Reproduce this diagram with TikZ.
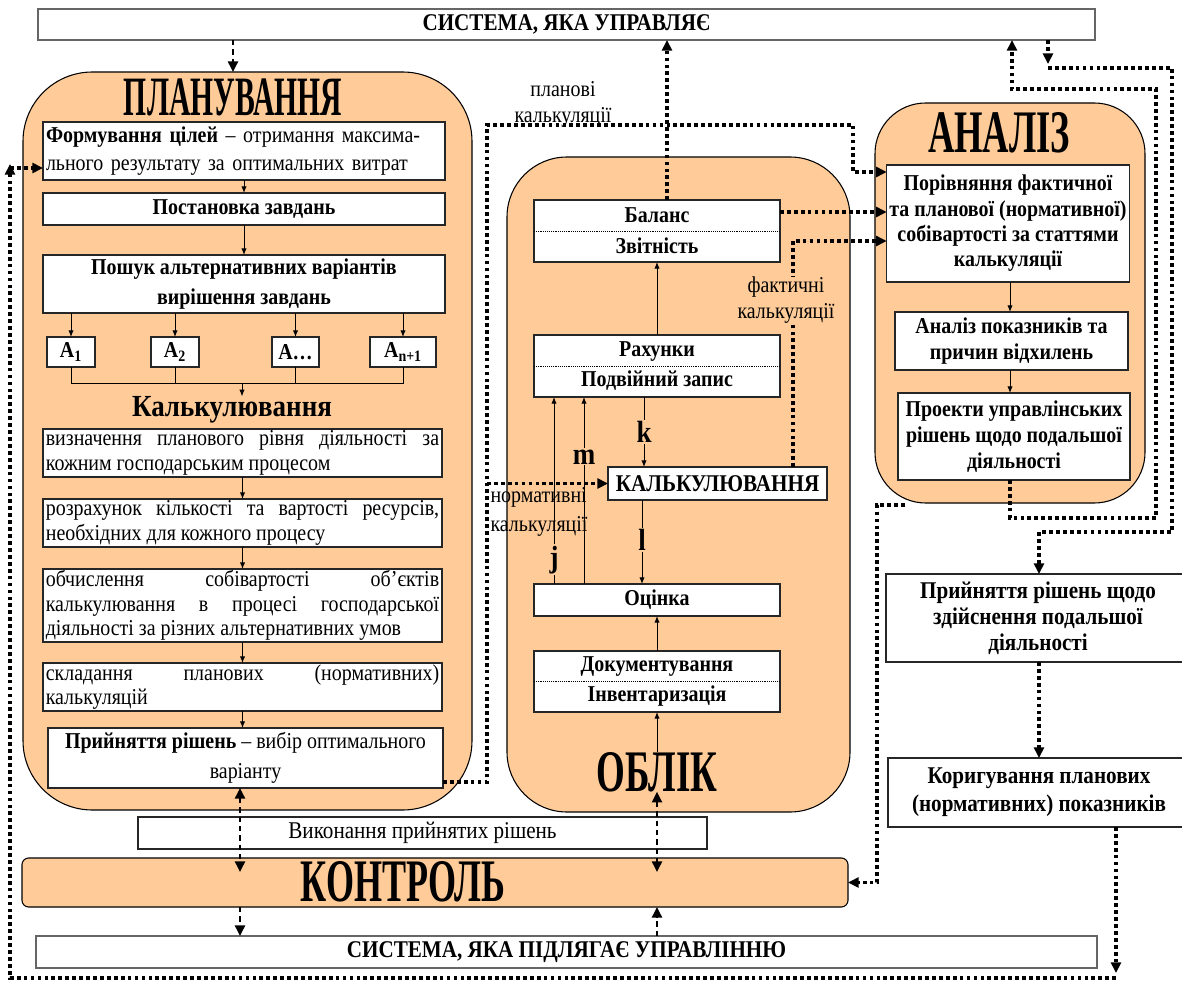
\documentclass[tikz,border=0pt]{standalone}
\usepackage{fontspec}
\usepackage{graphicx}
\setmainfont[FakeStretch=0.88]{Liberation Serif}
\usetikzlibrary{arrows.meta,calc}
\definecolor{peach}{HTML}{FFCC99}
\newcommand\fr{\fontsize{17}{18.5}\selectfont}
\newcommand\fb{\fontsize{17}{19}\selectfont\bfseries}
\newcommand\flbl{\fontsize{23}{23}\selectfont\bfseries}
\newcommand\bx[7][]{\node[box,#1,minimum width={(#5-#3)*0.75pt},minimum height={(#6-#4)*0.75pt}] (#2) at ({(#3+#5)/2},{(#4+#6)/2}) {#7};}
\newcommand\bigttl[3]{\resizebox{#1}{#2}{\bfseries #3}}
\begin{document}
\begin{tikzpicture}[x=0.75pt,y=-0.75pt,
  box/.style={draw=black!85,line width=0.8pt,fill=white,inner xsep=2pt,inner ysep=0pt,outer sep=0pt,align=center,font=\fb},
  region/.style={draw=black,line width=0.8pt,fill=peach},
  arr/.style={line width=0.7pt,-{Latex[length=5pt,width=4pt]}},
  ln/.style={line width=0.7pt},
  dotl/.style={line width=2.8pt,dash pattern=on 2.8pt off 2.4pt},
  dotarr/.style={dotl,-{Triangle[length=8pt,width=7.5pt]}},
  dasharr/.style={line width=1.8pt,dash pattern=on 4pt off 3pt,-{Triangle[length=8pt,width=7.5pt]}},
  dashdbl/.style={line width=1.8pt,dash pattern=on 4pt off 3pt,{Triangle[length=8pt,width=7.5pt]}-{Triangle[length=8pt,width=7.5pt]}},
  sepl/.style={line width=0.5pt,dash pattern=on 0.7pt off 0.7pt},
  lbl/.style={font=\flbl,fill=peach,inner sep=1pt},
  note/.style={font={\fontsize{17}{19.5}\selectfont},align=center,inner sep=0pt},
  ttl/.style={inner sep=0pt,outer sep=0pt}]
\useasboundingbox (0,0) rectangle (1182,981);
\fill[white] (0,0) rectangle (1182,981);
% coordinates
\coordinate (c10) at (10,0);
\coordinate (c233) at (233,0);
\coordinate (c240) at (240,0);
\coordinate (c242) at (242,0);
\coordinate (c487) at (487,0);
\coordinate (c554) at (554,0);
\coordinate (c584) at (584,0);
\coordinate (c642) at (642,0);
\coordinate (c644) at (644,0);
\coordinate (c657) at (657,0);
\coordinate (c667) at (667,0);
\coordinate (c793) at (793,0);
\coordinate (c853) at (853,0);
\coordinate (c877) at (877,0);
\coordinate (c1010) at (1010,0);
\coordinate (c1012) at (1012,0);
\coordinate (c1039) at (1039,0);
\coordinate (c1048) at (1048,0);
\coordinate (c1116) at (1116,0);
\coordinate (c1156) at (1156,0);
\coordinate (c1172) at (1172,0);
\coordinate (y64) at (0,64);
\coordinate (y68) at (0,68);
\coordinate (y89) at (0,89);
\coordinate (y125) at (0,125);
\coordinate (y164) at (0,164);
\coordinate (y168) at (0,168);
\coordinate (y172) at (0,172);
\coordinate (y212) at (0,212);
\coordinate (y241) at (0,241);
\coordinate (y383) at (0,383);
\coordinate (y518) at (0,518);
\coordinate (y532) at (0,532);
\coordinate (y782) at (0,782);
\coordinate (y872) at (0,872);
\coordinate (y973) at (0,973);
\coordinate (y978) at (0,978);
\coordinate (aS) at (905,505);
% regions
\bx[region,rounded corners=52pt]{plan}{23}{72}{472}{810}{}
\bx[region,rounded corners=45pt]{obl}{507}{157}{850}{812}{}
\bx[region,rounded corners=38pt]{ana}{875}{103}{1145}{503}{}
\bx[region,rounded corners=5pt]{kon}{22}{858}{848}{907}{}
\node[ttl] (tplan) at (233,97) {\bigttl{163.5pt}{27.5pt}{ПЛАНУВАННЯ}};
\node[ttl] (tana) at (999,133) {\bigttl{106.5pt}{30pt}{АНАЛІЗ}};
\node[ttl] (tobl) at (657,772) {\bigttl{90.75pt}{29.25pt}{ОБЛІК}};
\node[ttl] (tkon) at (403,882) {\bigttl{153pt}{30pt}{КОНТРОЛЬ}};
% system boxes
\bx[draw=black!60,font={\fontsize{18}{19}\selectfont\bfseries}]{sysU}{38}{9}{1095}{40}{СИСТЕМА, ЯКА УПРАВЛЯЄ}
\bx[draw=black!60,font={\fontsize{18}{19}\selectfont\bfseries}]{sysB}{36}{936}{1097}{968}{СИСТЕМА, ЯКА ПІДЛЯГАЄ УПРАВЛІННЮ}
\bx[font={\fontsize{18}{19}\selectfont}]{vyk}{138}{817}{707}{849}{Виконання прийнятих рішень}
% planning
\bx[align=left,text width=297pt,font={\fontsize{17}{21}\selectfont}]{form}{43}{122}{445}{180}{\textbf{Формування цілей} – отримання максима-\\льного результату за оптимальних витрат}
\bx{post}{43}{193}{445}{225}{Постановка завдань}
\bx[font={\fontsize{17}{22.5}\selectfont\bfseries}]{posh}{43}{255}{445}{313}{Пошук альтернативних варіантів\\вирішення завдань}
\bx{a1}{47}{337}{95}{367}{A\textsubscript{1}}
\bx{a2}{151}{337}{199}{367}{A\textsubscript{2}}
\bx{a3}{272}{337}{319}{367}{A…}
\bx{a4}{370}{337}{436}{367}{A\textsubscript{n+1}}
\node[font={\fontsize{23}{23}\selectfont\bfseries},inner sep=0pt] (kt) at (232,410) {Калькулювання};
\bx[align=justify,text width=295pt,font=\fr]{b1}{43}{429}{442}{477}{визначення планового рівня діяльності за\linebreak кожним господарським процесом}
\bx[align=justify,text width=295pt,font=\fr]{b2}{43}{499}{442}{547}{розрахунок кількості та вартості ресурсів,\linebreak необхідних для кожного процесу}
\bx[align=justify,text width=295pt,font=\fr]{b3}{43}{569}{442}{642}{обчислення собівартості об’єктів\linebreak калькулювання в процесі господарської\linebreak діяльності за різних альтернативних умов}
\bx[align=justify,text width=295pt,font=\fr]{b4}{43}{663}{442}{711}{складання планових (нормативних)\linebreak калькуляцій}
\bx[font={\fontsize{17}{22.5}\selectfont}]{b5}{48}{728}{443}{788}{\textbf{Прийняття рішень} – вибір оптимального\\варіанту}
% oblik
\bx[font={\fontsize{17}{23}\selectfont\bfseries}]{bal}{534}{200}{780}{262}{Баланс\\Звітність}
\draw[sepl] (bal.west) -- (bal.east);
\bx[font={\fontsize{17}{23}\selectfont\bfseries}]{rah}{534}{335}{780}{397}{Рахунки\\Подвійний запис}
\draw[sepl] (rah.west) -- (rah.east);
\bx[font={\fontsize{18}{18}\selectfont\bfseries}]{kalkB}{608}{467}{827}{500}{КАЛЬКУЛЮВАННЯ}
\bx{ots}{534}{584}{780}{616}{Оцінка}
\bx[font={\fontsize{17}{23}\selectfont\bfseries}]{dok}{534}{651}{780}{712}{Документування\\Інвентаризація}
\draw[sepl] (dok.west) -- (dok.east);
% analiz
\bx{por}{888}{165}{1128}{282}{Порівняння фактичної\\та планової (нормативної)\\собівартості за статтями\\калькуляції}
\bx{anp}{895}{312}{1128}{370}{Аналіз показників та\\причин відхилень}
\bx[font={\fontsize{17}{19.5}\selectfont\bfseries}]{pro}{898}{393}{1130}{480}{Проекти управлінських\\рішень щодо подальшої\\діяльності}
\bx[font={\fontsize{18}{19.5}\selectfont\bfseries}]{prs}{886}{574}{1190}{662}{Прийняття рішень щодо\\здійснення подальшої\\діяльності}
\bx[font={\fontsize{18}{21}\selectfont\bfseries}]{kor}{888}{758}{1190}{827}{Коригування планових\\(нормативних) показників}
% labels
\node[note] (lplan) at (563,104) {планові\\калькуляції};
\node[note,align=left,font={\fontsize{17}{22}\selectfont}] (lnorm) at (539,512) {нормативні\\калькуляції};
% connectors: planning
\draw[dasharr] (sysU.south -| c233) -- (plan.north -| c233);
\draw[arr] (form.south) -- (form.south |- post.north);
\draw[arr] (post.south) -- (post.south |- posh.north);
\foreach \a in {a1,a2,a3,a4} \draw[arr] (\a.north |- posh.south) -- (\a.north);
\draw[ln] (a1.south) -- (a1.south |- y383) -- (a4.south |- y383) -- (a4.south);
\draw[ln] (a2.south) -- (a2.south |- y383);
\draw[ln] (a3.south) -- (a3.south |- y383);
\draw[arr] (c242 |- y383) -- (c242 |- kt.north);
\draw[arr] (b1.south) -- (b1.south |- b2.north);
\draw[arr] (b2.south) -- (b2.south |- b3.north);
\draw[arr] (b3.south) -- (b3.south |- b4.north);
\draw[arr] (b4.south) -- (b4.south |- b5.north);
\draw[dotarr] (b5.east |- y782) -- (c487 |- y782) -- (c487 |- y125) -- (c853 |- y125) -- (c853 |- y172) -- (por.west |- y172);
\draw[dotarr] (c487 |- kalkB.west) -- (kalkB.west);
% oblik
\draw[dotarr] (bal.north -| c667) -- (sysU.south -| c667);
\draw[arr] (rah.north) -- (bal.south);
\draw[arr] (rah.south -| c644) -- node[lbl]{k} (kalkB.north -| c644);
\draw[arr] (ots.north -| c584) -- node[lbl,pos=0.68]{m} (rah.south -| c584);
\draw[arr] (ots.north -| c554) -- node[lbl,pos=0.13]{j} (rah.south -| c554);
\draw[arr] (kalkB.south -| c642) -- node[lbl,pos=0.48]{l} (ots.north -| c642);
\draw[arr] (dok.north) -- (ots.south);
\draw[arr] (tobl.north) -- (dok.south);
\draw[dotarr] (bal.east |- y212) -- (por.west |- y212);
\draw[dotarr] (kalkB.north -| c793) -- (c793 |- y241) -- (por.west |- y241);
\node[note,fill=peach] (lfakt) at (786,300) {фактичні\\калькуляції};
% analiz
\draw[arr] (por.south -| c1010) -- (anp.north -| c1010);
\draw[arr] (anp.south -| c1010) -- (pro.north -| c1010);
\draw[dotarr] (pro.south -| c1010) -- (c1010 |- y518) -- (c1156 |- y518) -- (c1156 |- y89) -- (c1012 |- y89) -- (sysU.south -| c1012);
\draw[dotarr] (sysU.south -| c1048) -- (c1048 |- y64);
\draw[dotarr] (c1048 |- y68) -- (c1172 |- y68) -- (c1172 |- y532) -- (c1039 |- y532) -- (prs.north -| c1039);
\draw[dotarr] (prs.south -| c1039) -- (kor.north -| c1039);
\draw[dotarr] (kor.south -| c1116) -- (c1116 |- y973);
\draw[dotarr] (c1116 |- y978) -- (c10 |- y978) -- (c10 |- y164);
\draw[dotarr] (c10 |- y168) -- (form.west |- y168);
\draw[dotarr] (aS) -- (c877 |- aS) -- (c877 |- kon.east) -- (kon.east);
% control
\draw[dashdbl] (b5.south -| c240) -- (c240 |- y872);
\draw[dashdbl] (tobl.south -| c657) -- (c657 |- y872);
\draw[dasharr] (kon.south -| c240) -- (sysB.north -| c240);
\draw[dasharr] (sysB.north -| c657) -- (kon.south -| c657);
\end{tikzpicture}
\end{document}
